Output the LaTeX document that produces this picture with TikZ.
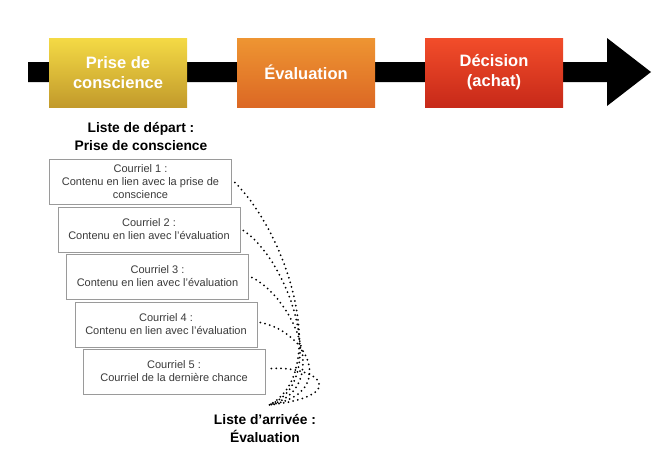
\documentclass[tikz,border=0pt]{standalone}
\usepackage{fontspec}
\setmainfont{Liberation Sans}
\definecolor{jauneH}{HTML}{F4DA45}
\definecolor{jauneB}{HTML}{C29A2B}
\definecolor{orangeH}{HTML}{EE9532}
\definecolor{orangeB}{HTML}{DC6824}
\definecolor{rougeH}{HTML}{F24D2A}
\definecolor{rougeB}{HTML}{C72919}
\definecolor{texte}{HTML}{3A3A3A}
\definecolor{cadre}{HTML}{9A9A9A}
\tikzset{
  etape/.style={minimum width=138pt, minimum height=69pt, inner sep=0pt,
    align=center, text=white, font=\fontsize{16.5}{20}\selectfont\bfseries},
  courriel/.style={draw=cadre, line width=0.9pt, fill=white, minimum width=182pt,
    minimum height=45pt, inner sep=0pt, align=center, text=texte,
    font=\fontsize{11}{13}\selectfont},
  titre/.style={align=center, font=\fontsize{13.8}{18}\selectfont\bfseries},
  lien/.style={line width=2pt, line cap=round, dash pattern=on 0pt off 4.8pt}
}
\begin{document}
\begin{tikzpicture}[x=1pt, y=-1pt] %Parcours d'achat et suite de courriels
            \useasboundingbox (0,0) rectangle (659,453);

            \coordinate (D) at (28,62);
            \coordinate (E) at (607,62);
            \coordinate (F) at (607,38);
            \coordinate (P) at (651,72);
            \coordinate (G) at (607,106);
            \coordinate (H) at (607,82);
            \coordinate (I) at (28,82);

            \fill[black] (D) -- (E) -- (F) -- (P) -- (G) -- (H) -- (I) -- cycle;

            \node[etape, top color=jauneH, bottom color=jauneB] (e1) at (118,72.5) {Prise de\\conscience};
            \node[etape, top color=orangeH, bottom color=orangeB] (e2) at (306,72.5) {Évaluation};
            \node[etape, top color=rougeH, bottom color=rougeB] (e3) at (494,72.5) {Décision\\(achat)};

            \node[titre] (dep) at (141,137) {Liste de départ :\\Prise de conscience};

            \node[courriel] (c1) at (140.5,181.5) {Courriel 1 :\\Contenu en lien avec la prise de\\conscience};
            \node[courriel] (c2) at (149,229.5) {Courriel 2 :\\Contenu en lien avec l'évaluation};
            \node[courriel] (c3) at (157.5,276.5) {Courriel 3 :\\Contenu en lien avec l'évaluation};
            \node[courriel] (c4) at (166,324.5) {Courriel 4 :\\Contenu en lien avec l'évaluation};
            \node[courriel] (c5) at (174,371.5) {Courriel 5 :\\Courriel de la dernière chance};

            \node[titre] (arr) at (265,429) {Liste d'arrivée :\\Évaluation};
            \coordinate (Z) at (269,405);

            \draw[lien] ([shift={(3,1)}]c1.east) .. controls (292,240) and (328,375) .. (Z);
            \draw[lien] ([shift={(3,1)}]c2.east) .. controls (290,262) and (330,382) .. (Z);
            \draw[lien] ([shift={(3,1)}]c3.east) .. controls (296,300) and (332,390) .. (Z);
            \draw[lien] ([shift={(3,-2)}]c4.east) .. controls (308,332) and (338,394) .. (Z);
            \draw[lien] ([shift={(6,-3)}]c5.east) .. controls (320,366) and (350,396) .. (Z);
        \end{tikzpicture}
\end{document}
